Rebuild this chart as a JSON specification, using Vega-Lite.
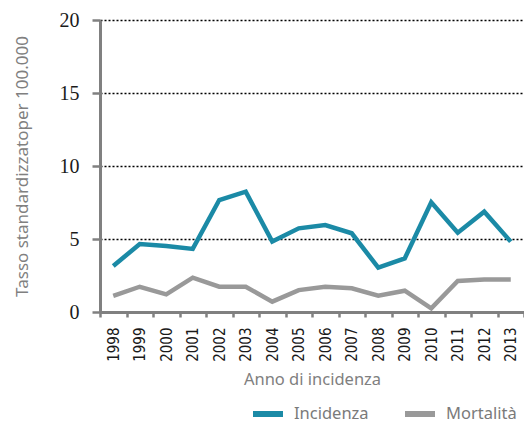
{
  "$schema": "https://vega.github.io/schema/vega-lite/v6.json",
  "width": 424,
  "height": 292,
  "autosize": "none",
  "padding": {"left": 100, "top": 20, "right": 0, "bottom": 114},
  "background": "white",
  "data": {
    "values": [
      {"anno": "1998", "serie": "Incidenza", "valore": 3.15},
      {"anno": "1999", "serie": "Incidenza", "valore": 4.66},
      {"anno": "2000", "serie": "Incidenza", "valore": 4.52},
      {"anno": "2001", "serie": "Incidenza", "valore": 4.32},
      {"anno": "2002", "serie": "Incidenza", "valore": 7.67},
      {"anno": "2003", "serie": "Incidenza", "valore": 8.24},
      {"anno": "2004", "serie": "Incidenza", "valore": 4.82},
      {"anno": "2005", "serie": "Incidenza", "valore": 5.73},
      {"anno": "2006", "serie": "Incidenza", "valore": 5.96},
      {"anno": "2007", "serie": "Incidenza", "valore": 5.39},
      {"anno": "2008", "serie": "Incidenza", "valore": 3.04},
      {"anno": "2009", "serie": "Incidenza", "valore": 3.67},
      {"anno": "2010", "serie": "Incidenza", "valore": 7.51},
      {"anno": "2011", "serie": "Incidenza", "valore": 5.43},
      {"anno": "2012", "serie": "Incidenza", "valore": 6.87},
      {"anno": "2013", "serie": "Incidenza", "valore": 4.82},
      {"anno": "1998", "serie": "Mortalità", "valore": 1.1},
      {"anno": "1999", "serie": "Mortalità", "valore": 1.73},
      {"anno": "2000", "serie": "Mortalità", "valore": 1.21},
      {"anno": "2001", "serie": "Mortalità", "valore": 2.35},
      {"anno": "2002", "serie": "Mortalità", "valore": 1.73},
      {"anno": "2003", "serie": "Mortalità", "valore": 1.73},
      {"anno": "2004", "serie": "Mortalità", "valore": 0.71},
      {"anno": "2005", "serie": "Mortalità", "valore": 1.5},
      {"anno": "2006", "serie": "Mortalità", "valore": 1.73},
      {"anno": "2007", "serie": "Mortalità", "valore": 1.62},
      {"anno": "2008", "serie": "Mortalità", "valore": 1.12},
      {"anno": "2009", "serie": "Mortalità", "valore": 1.46},
      {"anno": "2010", "serie": "Mortalità", "valore": 0.25},
      {"anno": "2011", "serie": "Mortalità", "valore": 2.12},
      {"anno": "2012", "serie": "Mortalità", "valore": 2.23},
      {"anno": "2013", "serie": "Mortalità", "valore": 2.23}
    ]
  },
  "mark": {"type": "line", "strokeWidth": 4.5, "strokeJoin": "miter", "strokeCap": "butt"},
  "encoding": {
    "x": {
      "field": "anno",
      "type": "ordinal",
      "bandPosition": 0.5,
      "scale": {"type": "band", "paddingInner": 0, "paddingOuter": 0},
      "axis": {
        "title": "Anno di incidenza",
        "titleFont": "Noto Sans",
        "titleFontSize": 16.5,
        "titleFontWeight": "normal",
        "titleColor": "#808080",
        "titlePadding": 10,
        "labelAngle": -90,
        "labelFont": "DejaVu Sans Condensed",
        "labelFontSize": 15,
        "labelColor": "#1a1a1a",
        "labelPadding": 10,
        "tickBand": "extent",
        "tickColor": "#808080",
        "tickSize": 5,
        "tickWidth": 2.5,
        "domainColor": "#808080",
        "domainWidth": 3,
        "grid": false
      }
    },
    "y": {
      "field": "valore",
      "type": "quantitative",
      "scale": {"domain": [0, 20]},
      "axis": {
        "title": "Tasso standardizzatoper 100.000",
        "titleFont": "Noto Sans",
        "titleFontSize": 17,
        "titleFontWeight": "normal",
        "titleColor": "#808080",
        "titlePadding": 28,
        "values": [0, 5, 10, 15, 20],
        "labelFont": "Liberation Sans Narrow",
        "labelFontSize": 20,
        "labelColor": "#1a1a1a",
        "labelPadding": 13,
        "tickColor": "#808080",
        "tickSize": 8,
        "tickWidth": 2.5,
        "domainColor": "#808080",
        "domainWidth": 3,
        "grid": true,
        "gridColor": "#000000",
        "gridDash": [2, 2],
        "gridWidth": 1.5
      }
    },
    "color": {
      "field": "serie",
      "type": "nominal",
      "scale": {"domain": ["Incidenza", "Mortalità"], "range": ["#1b8aa6", "#999999"]},
      "legend": {
        "title": null,
        "orient": "none",
        "legendX": 150,
        "legendY": 376,
        "direction": "horizontal",
        "symbolType": "stroke",
        "symbolSize": 900,
        "symbolStrokeWidth": 6,
        "labelFont": "Noto Sans",
        "labelFontSize": 16.5,
        "labelColor": "#7a7a7a",
        "labelOffset": 8,
        "columnPadding": 24
      }
    }
  },
  "config": {"view": {"stroke": null}}
}
